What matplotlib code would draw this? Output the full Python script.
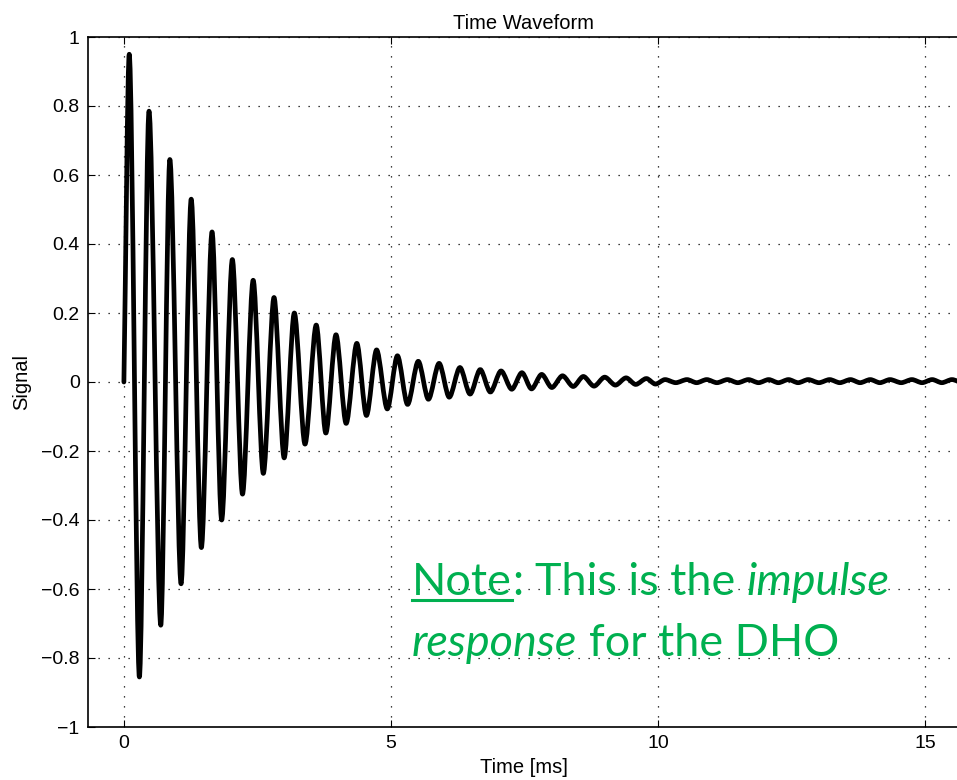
import matplotlib
matplotlib.use("Agg")
import matplotlib.pyplot as plt
from matplotlib.path import Path
from matplotlib.patches import PathPatch
from matplotlib.ticker import FixedLocator, FuncFormatter

# ---- data (extrema of the waveform) ----
t_ms = [0.00, 0.10, 0.29, 0.47, 0.69, 0.86, 1.07, 1.26, 1.45, 1.65, 1.83,
        2.03, 2.22, 2.42, 2.61, 2.81, 3.00, 3.19, 3.39, 3.60, 3.78, 3.97,
        4.16, 4.36, 4.54, 4.73, 4.93, 5.12, 5.31, 5.51, 5.70, 5.90, 6.09,
        6.29, 6.48, 6.67, 6.86, 7.06, 7.26, 7.45, 7.63, 7.82, 8.01, 8.21,
        8.41, 8.60, 8.80, 9.00, 9.20, 9.40, 9.58, 9.78, 9.95, 10.13, 10.33,
        10.54, 10.72, 10.91, 11.10, 11.30, 11.49, 11.69, 11.88, 12.07, 12.25,
        12.44, 12.62, 12.81, 13.01, 13.21, 13.40, 13.60, 13.78, 13.97, 14.15,
        14.34, 14.55, 14.75, 14.94, 15.13, 15.31, 15.50, 15.70]
signal = [0.000, 0.950, -0.855, 0.785, -0.705, 0.645, -0.585, 0.530, -0.480,
          0.435, -0.400, 0.355, -0.325, 0.295, -0.265, 0.245, -0.220, 0.200,
          -0.180, 0.165, -0.148, 0.137, -0.120, 0.112, -0.097, 0.093, -0.078,
          0.076, -0.065, 0.060, -0.050, 0.054, -0.044, 0.042, -0.035, 0.036,
          -0.029, 0.032, -0.021, 0.027, -0.020, 0.022, -0.016, 0.018, -0.013,
          0.016, -0.012, 0.014, -0.009, 0.012, -0.007, 0.010, -0.006, 0.007,
          -0.002, 0.007, -0.002, 0.007, -0.002, 0.007, -0.002, 0.007, -0.002,
          0.007, -0.002, 0.007, -0.002, 0.007, -0.002, 0.007, -0.002, 0.007,
          -0.002, 0.007, -0.002, 0.007, -0.002, 0.007, -0.002, 0.007, -0.002,
          0.007, -0.002]

x_ticks = [0, 5, 10, 15]
y_ticks = [-1, -0.8, -0.6, -0.4, -0.2, 0, 0.2, 0.4, 0.6, 0.8, 1]

title = "Time Waveform"
xlabel = "Time [ms]"
ylabel = "Signal"

W, H = 957, 780
fig = plt.figure(figsize=(W / 100, H / 100), dpi=100)
plt.rcParams['font.family'] = ['Liberation Sans', 'DejaVu Sans']

L, R, T, B = 88, 957, 37, 727
ax = fig.add_axes([L / W, (H - B) / H, (R - L) / W + 0.002, (B - T) / H])

# waveform drawn through the extrema with horizontal tangents (line style)
k = 0.30
verts = [(t_ms[0], signal[0])]
codes = [Path.MOVETO]
for i in range(1, len(t_ms)):
    t0, y0 = t_ms[i - 1], signal[i - 1]
    t1, y1 = t_ms[i], signal[i]
    dt = t1 - t0
    c0 = (t0 + k * dt, y0) if i > 1 else (t0 + 0.35 * dt, y0 + 0.35 * (y1 - y0))
    verts += [c0, (t1 - k * dt, y1), (t1, y1)]
    codes += [Path.CURVE4] * 3
ax.add_patch(PathPatch(Path(verts, codes), fill=False, edgecolor='black',
                       lw=3.4, joinstyle='round', capstyle='round',
                       transform=ax.transData))

ax.set_xlim(-0.672, 15.63)
ax.set_ylim(-1, 1)
ax.xaxis.set_major_locator(FixedLocator(x_ticks))
ax.yaxis.set_major_locator(FixedLocator(y_ticks))


def yfmt(v, pos):
    return ("%g" % v).replace("-", "\u2212")


ax.yaxis.set_major_formatter(FuncFormatter(yfmt))
ax.xaxis.set_major_formatter(FuncFormatter(lambda v, p: "%g" % v))
ax.tick_params(direction='in', length=5, width=0.8, labelsize=14, pad=6,
               top=True, right=False)
ax.grid(True, color='black', linestyle=(0, (1, 7)), linewidth=0.9)
for s in ['left', 'bottom', 'top']:
    ax.spines[s].set_linewidth(1.2)
ax.spines['right'].set_visible(False)

ax.set_title(title, fontsize=14.5, pad=6)
ax.set_xlabel(xlabel, fontsize=14.5, labelpad=4)
ax.set_ylabel(ylabel, fontsize=14.5, labelpad=7)

# ---- annotation ----
green = '#00B050'
note_family = ['Lato', 'Open Sans', 'DejaVu Sans']
fig.canvas.draw()
renderer = fig.canvas.get_renderer()


def width(txt, fs, style='normal'):
    t = fig.text(0, 0, txt, fontsize=fs, family=note_family, style=style)
    w = t.get_window_extent(renderer=renderer).width
    t.remove()
    return w


# fit the first line to the width seen in the reference (~477 px)
fs0 = 30
sp0 = width("x x", fs0) - width("xx", fs0)
w_line1 = width("Note:", fs0) + sp0 + width("This is the", fs0) + sp0 + \
    width("impulse", fs0, 'italic')
fs_note = fs0 * 477.0 / w_line1
sp = width("x x", fs_note) - width("xx", fs_note)


def put(txt, x, base_y, style='normal'):
    fig.text(x / W, (H - base_y) / H, txt, color=green, fontsize=fs_note,
             family=note_family, style=style, va='baseline', ha='left')
    return width(txt, fs_note, style)


x0 = 412
b1, b2 = 595, 656
wn = put("Note", x0, b1)
fig.add_artist(plt.Line2D([x0 / W, (x0 + wn) / W], [(H - b1 - 5) / H] * 2,
                          color=green, lw=2.2, transform=fig.transFigure))
x = x0 + wn
x += put(":", x, b1) + sp
x += put("This is the", x, b1) + sp
put("impulse", x, b1, 'italic')

x = x0
x += put("response", x, b2, 'italic') + sp
put("for the DHO", x, b2)

fig.savefig("out.png", dpi=100)
